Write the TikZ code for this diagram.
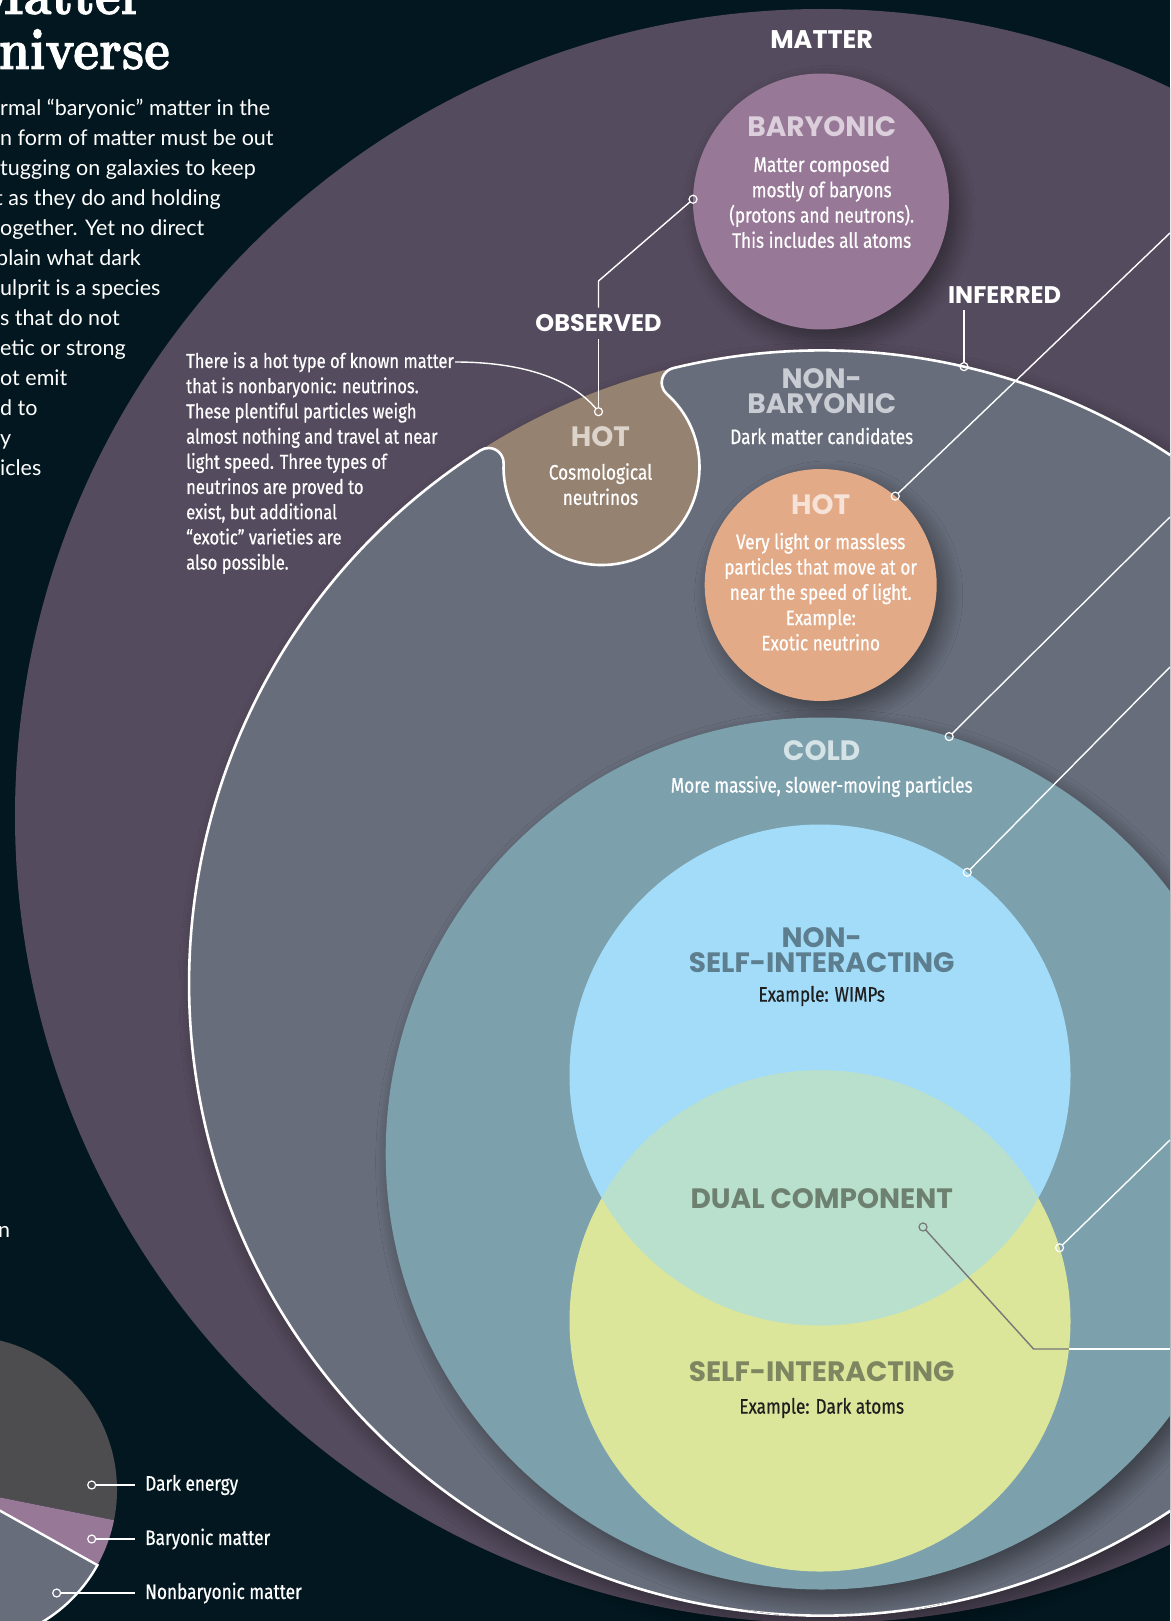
\documentclass[tikz,border=0pt]{standalone}
\usepackage{fontspec}
\usetikzlibrary{shadows.blur}

\newfontfamily\headfont{Poppins}
\newfontfamily\bodyfont{Fira Sans}[FakeStretch=0.82, FakeBold=0.6]
\newfontfamily\introfont{Lato}
\newfontfamily\titlefont{lmroman10-bold.otf}[FakeStretch=0.84, FakeBold=1.6]

\definecolor{spacenavy}{HTML}{02171F}
\definecolor{matterpurple}{HTML}{554B5E}
\definecolor{nbgray}{HTML}{676D7B}
\definecolor{barypurple}{HTML}{977896}
\definecolor{cosmobrown}{HTML}{968270}
\definecolor{hotorange}{HTML}{E3AA87}
\definecolor{coldteal}{HTML}{7CA1AD}
\definecolor{wimpblue}{HTML}{A2DCF8}
\definecolor{selfgreen}{HTML}{DBE69A}
\definecolor{dualmint}{HTML}{B8E0CD}
\definecolor{darkenergy}{HTML}{4D4D50}
\definecolor{barylabel}{HTML}{DCCFDC}
\definecolor{nblabel}{HTML}{C9CCD3}
\definecolor{cosmolabel}{HTML}{DCD3CB}
\definecolor{hotlabel}{HTML}{F6E2D6}
\definecolor{coldlabel}{HTML}{D5E2E6}
\definecolor{wimplabel}{HTML}{5D7E8E}
\definecolor{duallabel}{HTML}{6E8070}
\definecolor{selflabel}{HTML}{7D8660}
\definecolor{examplegray}{HTML}{1F1F1F}
\definecolor{dualline}{HTML}{777777}

\tikzset{
  bubble/.style={circle, inner sep=0pt, outer sep=0pt},
  softshadow/.style={blur shadow={shadow xshift=8pt, shadow yshift=-10pt,
      shadow blur radius=18pt, shadow blur steps=12, shadow opacity=45}},
  heading/.style={font=\headfont\bfseries\fontsize{28}{25}\selectfont,
    align=center, inner sep=0pt},
  toplabel/.style={font=\headfont\bfseries\fontsize{24}{26}\selectfont,
    text=white, inner sep=7pt},
  blurb/.style={font=\bodyfont\fontsize{21}{25.3}\selectfont, align=center,
    inner sep=0pt, text=white},
  budgetlabel/.style={font=\bodyfont\fontsize{21}{25}\selectfont, text=white,
    anchor=west, inner sep=0pt, inner xsep=10pt},
  dotmark/.style={circle, draw=white, line width=1.2pt, inner sep=0pt,
    minimum size=8pt, outer sep=0pt},
  leader/.style={white, line width=1.4pt},
}

\begin{document}
\begin{tikzpicture}[x=1pt, y=1pt]
  \useasboundingbox (0,0) rectangle (1170,-1621);
  \fill[spacenavy] (0,0) rectangle (1170,-1621);
  \clip (0,0) rectangle (1170,-1621);

  % --- title and intro, cut by the left edge ---
  \node[anchor=base east, font=\titlefont\fontsize{58}{60}\selectfont,
    text=white, inner sep=0pt] (titletop) at (144,-14) {Matter};
  \node[anchor=base east, font=\titlefont\fontsize{58}{60}\selectfont,
    text=white, inner sep=0pt] (titlebottom) at (170,-69) {Universe};
  \node[anchor=north west, align=left, text=white, inner sep=0pt,
    font=\introfont\fontsize{21.5}{30}\selectfont] (intro) at (0,-99)
    {rmal “baryonic” matter in the\\
     n form of matter must be out\\
     tugging on galaxies to keep\\
     \hspace*{-5pt}t as they do and holding\\
     ogether. Yet no direct\\
     \hspace*{-4pt}plain what dark\\
     ulprit is a species\\
     s that do not\\
     etic or strong\\
     ot emit\\
     d to\\
     y\\
     icles};
  \node[anchor=base west, text=white, inner sep=0pt,
    font=\introfont\fontsize{21.5}{30}\selectfont] (introtail) at (-2,-1237.5) {n};

  % --- pie chart of the cosmic budget ---
  \coordinate (piecentre) at (-37,-1490);
  \fill[darkenergy] (piecentre) -- ++(-11.3:154)
    arc[start angle=-11.3, end angle=234, radius=154] -- cycle;
  \fill[barypurple] (piecentre) -- ++(-29.2:154)
    arc[start angle=-29.2, end angle=-11.3, radius=154] -- cycle;
  \filldraw[fill=nbgray, draw=white, line width=2.4pt] (piecentre) -- ++(-126:154)
    arc[start angle=-126, end angle=-29.2, radius=154] -- cycle;

  \node[dotmark] (dotdark) at (91.7,-1485) {};
  \node[dotmark] (dotbaryshare) at (91.7,-1539) {};
  \node[dotmark] (dotnbshare) at (56.7,-1593) {};
  \node[budgetlabel] (labdark) at (135,-1485) {Dark energy};
  \node[budgetlabel] (labbary) at (135,-1539) {Baryonic matter};
  \node[budgetlabel] (labnb) at (135,-1593) {Nonbaryonic matter};
  \draw[leader] (dotdark) -- (labdark.west);
  \draw[leader] (dotbaryshare) -- (labbary.west);
  \draw[leader] (dotnbshare) -- (labnb.west);

  % --- matter and its two branches ---
  \coordinate (mattercentre) at (822,-816);
  \fill[matterpurple] (mattercentre) circle (807);

  \node[bubble, fill=barypurple, minimum size=256pt, softshadow] (baryonic)
    at (821,-201.5) {};

  % nonbaryonic disc with the neutrino bump cut out of it
  \coordinate (nbcentre) at (821.7,-983);
  \coordinate (cosmocentre) at (601.5,-467);
  \fill[cosmobrown, softshadow] (nbcentre) circle (632.6);
  \filldraw[fill=nbgray, draw=white, line width=2.6pt]
    ([shift={(122.65:632.6)}]nbcentre)
    arc[start angle=122.65, end angle=463.58, radius=632.6]
    arc[start angle=103.58, end angle=228.28, radius=15]
    arc[start angle=48.28, end angle=-182.05, radius=98]
    arc[start angle=-2.05, end angle=122.65, radius=15] -- cycle;

  \node[bubble, fill=hotorange, minimum size=232pt, softshadow] (hotdm)
    at (820.7,-585) {};
  \node[bubble, fill=coldteal, minimum size=872pt, softshadow] (cold)
    at (821.7,-1153.5) {};
  \node[bubble, fill=wimpblue, minimum size=501pt] (wimps) at (820,-1075) {};
  \node[bubble, fill=selfgreen, minimum size=501pt] (selfint) at (820,-1321) {};
  \begin{scope}
    \clip (wimps.center) circle (250.5);
    \fill[dualmint] (selfint.center) circle (250.5);
  \end{scope}

  % --- leaders ---
  \node[dotmark] (dotbary) at (baryonic.179) {};
  \node[dotmark] (dotcosmo) at (598.5,-411.7) {};
  \node[dotmark] (dotinferred) at ([shift={(77:632.6)}]nbcentre) {};
  \node[dotmark] (dothot) at (hotdm.50) {};
  \node[dotmark] (dotcold) at (cold.73) {};
  \node[dotmark] (dotwimp) at (wimps.54) {};
  \node[dotmark] (dotself) at (selfint.17) {};
  \node[dotmark, draw=dualline] (dotdual) at (923,-1227) {};

  \coordinate (edgehot) at (1170,-233);
  \coordinate (edgecold) at (1170,-517);
  \coordinate (edgewimp) at (1170,-667);
  \coordinate (edgeself) at (1170,-1140);
  \coordinate (dualbend) at (1033.6,-1349);
  \coordinate (dualrim) at (1069,-1349);
  \coordinate (edgedual) at (1170,-1349);

  \node[toplabel, font=\headfont\bfseries\fontsize{25.5}{27}\selectfont]
    (mattertitle) at (821.7,-39.3) {MATTER};
  \node[toplabel] (observed) at (598.5,-323.5) {OBSERVED};
  \node[toplabel] (inferred) at (1004.6,-294.6) {INFERRED};

  \coordinate (obsbend) at (598.5,-281);
  \draw[leader] (dotbary) -- (obsbend) -- (observed.north);
  \draw[leader] (observed.south) -- (dotcosmo);
  \draw[leader] (dotinferred) -- (dotinferred |- inferred.south);
  \draw[leader] (dothot) -- (edgehot);
  \draw[leader] (dotcold) -- (edgecold);
  \draw[leader] (dotwimp) -- (edgewimp);
  \draw[leader] (dotself) -- (edgeself);
  \draw[dualline, line width=1.4pt] (dotdual) -- (dualbend) -- (dualrim);
  \draw[leader] (dualrim) -- (edgedual);

  \coordinate (calloutend) at (455,-362);
  \draw[leader] (calloutend) .. controls (525,-362) and (572,-380) .. (dotcosmo);

  % --- texts ---
  \node[heading, text=barylabel] (barytitle) at (821.7,-127) {BARYONIC};
  \node[blurb, anchor=north] (barytext) at (821.7,-156)
    {Matter composed\\mostly of baryons\\(protons and neutrons).\\This includes all atoms};

  \node[heading, text=nblabel, anchor=north] (nbtitle) at (821.7,-368) {NON-\\BARYONIC};
  \node[blurb] (nbtext) at (821.7,-436) {Dark matter candidates};

  \node[heading, text=cosmolabel] (cosmotitle) at (600.5,-437) {HOT};
  \node[blurb, anchor=north] (cosmotext) at (600.5,-463) {Cosmological\\neutrinos};

  \node[heading, text=hotlabel] (hottitle) at (820.7,-505) {HOT};
  \node[blurb, anchor=north] (hottext) at (820.7,-532.6)
    {Very light or massless\\particles that move at or\\near the speed of light.\\Example:\\Exotic neutrino};

  \node[heading, text=coldlabel] (coldtitle) at (821.7,-750.4) {COLD};
  \node[blurb] (coldtext) at (821.7,-786.6) {More massive, slower-moving particles};

  \node[heading, text=wimplabel, anchor=north] (wimptitle) at (821.7,-927.5)
    {NON-\\SELF-INTERACTING};
  \node[blurb, text=examplegray] (wimptext) at (821.7,-996) {Example: WIMPs};

  \node[heading, text=duallabel] (dualtitle) at (821.7,-1199) {DUAL COMPONENT};

  \node[heading, text=selflabel] (selftitle) at (821.7,-1371.5) {SELF-INTERACTING};
  \node[blurb, text=examplegray] (selftext) at (821.7,-1408) {Example: Dark atoms};

  \node[blurb, align=left, anchor=north west,
    font=\bodyfont\fontsize{20.2}{25.2}\selectfont] (hotnote) at (186,-352)
    {There is a hot type of known matter\\
     that is nonbaryonic: neutrinos.\\
     These plentiful particles weigh\\
     almost nothing and travel at near\\
     light speed. Three types of\\
     neutrinos are proved to\\
     exist, but additional\\
     “exotic” varieties are\\
     also possible.};
\end{tikzpicture}
\end{document}
